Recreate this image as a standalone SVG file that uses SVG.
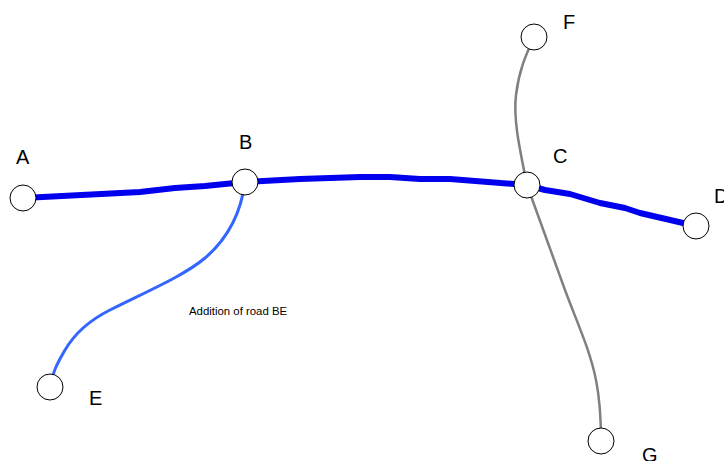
<svg xmlns="http://www.w3.org/2000/svg" width="724" height="461" viewBox="0 0 724 461">
<style>
.road{fill:none;stroke-linejoin:round;stroke-linecap:round}
.main{stroke:#0000ee;stroke-width:6}
.new{stroke:#3366ff;stroke-width:3}
.side{stroke:#808080;stroke-width:2.5}
.node{fill:#fff;stroke:#000;stroke-width:1}
.lbl{font-family:"Liberation Sans",Arial,sans-serif;font-size:20px;fill:#000}
.note{font-family:"Liberation Sans",Arial,sans-serif;font-size:11.4px;fill:#000}
</style>
<rect width="724" height="461" fill="#fff"/>
<g id="connectors">
<path class="road side" d="M527,185 C520,150 513,120 516,95 C519,70 526,55 534,37"/>
<path class="road side" d="M527,185 C540,220 552,255 565,290 C578,325 590,350 596,380 C600,400 601,415 601,441"/>
<path class="road main" d="M23,198 L140,192 L175,188 L205,186 L245,182 L300,179 L360,177 L390,177 L420,179 L450,179 L527,185 L545,190 L570,194 L600,203 L625,208 L640,213 L696,226"/>
<path class="road new" d="M245,182 C242,205 232,235 205,258 C185,275 150,290 110,310 C90,320 75,333 65,350 C58,362 52,373 50,387"/>
</g>
<g id="node-A"><circle class="node" cx="23" cy="198" r="13"/><text class="lbl" x="16" y="164">A</text></g>
<g id="node-B"><circle class="node" cx="245" cy="182" r="13"/><text class="lbl" x="239" y="149">B</text></g>
<g id="node-C"><circle class="node" cx="527" cy="185" r="13"/><text class="lbl" x="553" y="163">C</text></g>
<g id="node-D"><circle class="node" cx="696" cy="226" r="13"/><text class="lbl" x="714" y="203">D</text></g>
<g id="node-E"><circle class="node" cx="50" cy="387" r="13"/><text class="lbl" x="89" y="405">E</text></g>
<g id="node-F"><circle class="node" cx="534" cy="37" r="13"/><text class="lbl" x="563" y="29">F</text></g>
<g id="node-G"><circle class="node" cx="601" cy="441" r="13"/><text class="lbl" x="642" y="462">G</text></g>
<text class="note" x="189" y="315">Addition of road BE</text>
</svg>
